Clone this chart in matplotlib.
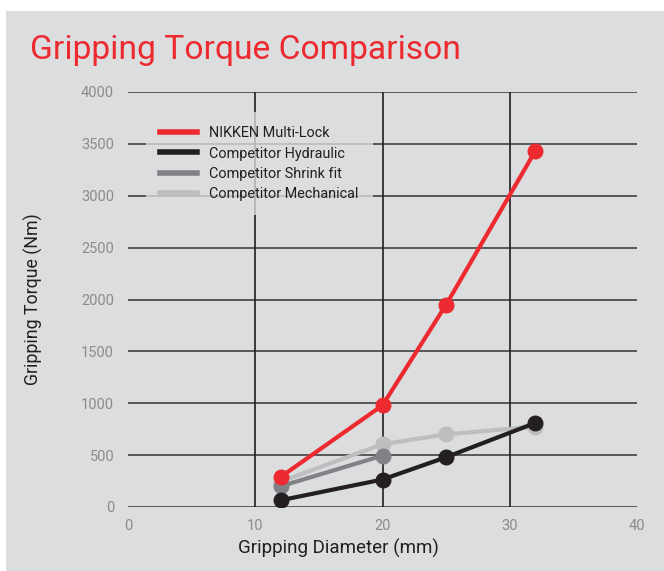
import matplotlib
matplotlib.use("Agg")
import matplotlib.pyplot as plt
from matplotlib.patches import Rectangle
from matplotlib.lines import Line2D

# ---- data ----
series_names = ["NIKKEN Multi-Lock", "Competitor Hydraulic",
                "Competitor Shrink fit", "Competitor Mechanical"]
nikken_x = [12, 20, 25, 32]
nikken_y = [290, 980, 1950, 3430]
hydraulic_x = [12, 20, 25, 32]
hydraulic_y = [65, 265, 480, 810]
shrink_x = [12, 20]
shrink_y = [200, 495]
mechanical_x = [12, 20, 25, 32]
mechanical_y = [245, 605, 700, 775]
x_ticks = [0, 10, 20, 30, 40]
y_ticks = [0, 500, 1000, 1500, 2000, 2500, 3000, 3500, 4000]

BG = "#dcdddf"
RED = "#ec2a2f"
BLACK = "#231f20"
DGRAY = "#808285"
LGRAY = "#bcbec0"
TICKC = "#8a8c8e"

plt.rcParams['font.family'] = ["Roboto", "DejaVu Sans"]

fig = plt.figure(figsize=(6.64, 5.71), dpi=100)
fig.patch.set_facecolor("white")
fig.add_artist(Rectangle((6/664, 0), 1, 1 - 11/571, transform=fig.transFigure,
                         facecolor=BG, edgecolor="none", zorder=0))

ax = fig.add_axes([128/664, 1 - 507/571, (637-128)/664, (507-92)/571])
ax.set_facecolor("none")
ax.set_xlim(0, 40)
ax.set_ylim(0, 4000)
for s in ax.spines.values():
    s.set_visible(False)

# grid lines
for yv in y_ticks:
    ax.axhline(yv, color="#4d4d4f", lw=1.3, zorder=1)
for xv in x_ticks[1:-1]:
    ax.axvline(xv, color=BLACK, lw=1.2, zorder=1)

ax.set_xticks(x_ticks)
ax.set_yticks(y_ticks)
ax.tick_params(length=0, colors=TICKC, labelsize=10.5)
ax.tick_params(axis='x', pad=9)
ax.tick_params(axis='y', pad=10)

lw = 3
ms = 10.5
ax.plot(mechanical_x, mechanical_y, color=LGRAY, lw=lw, marker='o', ms=ms,
        label=series_names[3], zorder=3)
ax.plot(shrink_x, shrink_y, color=DGRAY, lw=lw, marker='o', ms=ms,
        label=series_names[2], zorder=4)
ax.plot(hydraulic_x, hydraulic_y, color=BLACK, lw=lw, marker='o', ms=ms,
        label=series_names[1], zorder=5)
ax.plot(nikken_x, nikken_y, color=RED, lw=lw, marker='o', ms=ms,
        label=series_names[0], zorder=6)

handles, labels = ax.get_legend_handles_labels()
order = [3, 2, 1, 0]
leg_handles = [Line2D([0], [0], color=handles[i].get_color(), lw=4) for i in order]
leg = ax.legend(leg_handles, [labels[i] for i in order],
                loc="upper left", bbox_to_anchor=((146-128)/509, (507-112)/415),
                borderaxespad=0, frameon=True, fontsize=10.4,
                handlelength=2.5, handletextpad=0.85,
                labelspacing=0.42, borderpad=1.0, fancybox=False,
                labelcolor=BLACK)
leg.get_frame().set_facecolor(BG)
leg.get_frame().set_alpha(0.78)
leg.get_frame().set_edgecolor("none")
leg.set_zorder(2)

ax.set_xlabel("Gripping Diameter (mm)", fontsize=13.5, color=BLACK)
ax.xaxis.set_label_coords((338-128)/509, -(548-507)/415, transform=ax.transAxes)
ax.xaxis.label.set_va("center")
ax.set_ylabel("Gripping Torque (Nm)", fontsize=12.8, color=BLACK)
ax.yaxis.set_label_coords(-(128-33)/509, 0.5, transform=ax.transAxes)
ax.yaxis.label.set_va("center")

fig.text(30/664, 1 - 50/571, "Gripping Torque Comparison", color=RED,
         fontsize=24.2, va="center", ha="left")

fig.savefig("out.png", dpi=100, facecolor=fig.get_facecolor())
